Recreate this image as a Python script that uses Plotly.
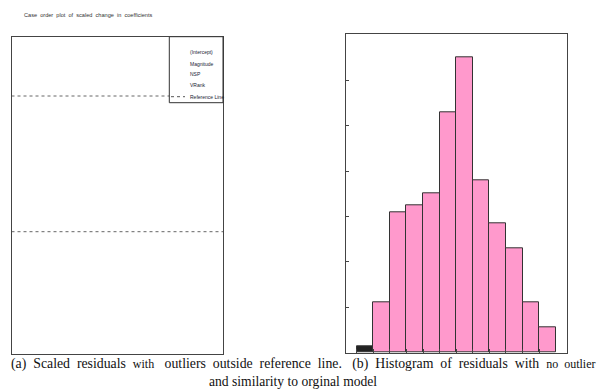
import plotly.graph_objects as go

# ---- data ----
# left panel: case order plot (coefficient series and reference line levels)
coef_names = ["(Intercept)", "Magnitude", "NSP", "VRank"]
reference_levels = [1.0, -1.0]
case_range = [0, 100]
scaled_change_range = [-2.807, 1.874]

# right panel: histogram of residuals
bin_left = [0, 1, 2, 3, 4, 5, 6, 7, 8, 9, 10, 11]
counts = [1.5, 11, 31, 32.5, 35, 53, 65, 38, 28.5, 23, 11, 5.5]
count_ticks = [0, 10, 20, 30, 40, 50, 60, 70]
bin_ticks = [0, 1, 2, 3, 4, 5, 6, 7, 8, 9, 10, 11]

title_text = "Case  order  plot  of  scaled  change  in  coefficients"
small = "<span style='font-size:12px'>%s</span>"
caption_1 = ("(a)  Scaled  residuals  " + small % "with" + "   outliers  outside  "
             "reference  line.   (b)  Histogram  of  residuals  with  " + small % "no  outlier")
caption_2 = "and similarity to orginal model"

W, H = 597, 389


def px(x):
    return x / W


def py(y):
    return 1 - y / H


fig = go.Figure()

# reference lines in the case order plot
for lvl in reference_levels:
    fig.add_trace(go.Scatter(
        x=case_range, y=[lvl, lvl], mode="lines",
        line=dict(color="#666666", width=1, dash="3px,3px"),
        xaxis="x", yaxis="y", showlegend=False, hoverinfo="skip"))

# histogram bars
bar_colors = ["#222222"] + ["#FF99CC"] * (len(counts) - 1)
fig.add_trace(go.Bar(
    x=bin_left, y=counts, offset=0, width=1,
    marker=dict(color=bar_colors, line=dict(color="#333333", width=1)),
    xaxis="x2", yaxis="y2", showlegend=False, hoverinfo="skip"))

frame = dict(showline=True, linecolor="#444444", linewidth=1.3, mirror=True,
             showgrid=False, zeroline=False, showticklabels=False)

fig.update_layout(
    width=W, height=H, margin=dict(l=0, r=0, t=0, b=0),
    paper_bgcolor="white", plot_bgcolor="white",
    showlegend=False, bargap=0,
    xaxis=dict(domain=[px(11.5), px(223)], range=case_range, ticks="", **frame),
    yaxis=dict(domain=[py(354.3), py(36.7)], range=scaled_change_range, ticks="", **frame),
    xaxis2=dict(domain=[px(346), px(566.7)], range=[-0.645, 12.66], anchor="y2",
                ticks="inside", ticklen=4, tickcolor="#444444", tickvals=bin_ticks, **frame),
    yaxis2=dict(domain=[py(352.7), py(34.3)], range=[0, 70.1], anchor="x2",
                ticks="inside", ticklen=3, tickcolor="#444444", tickvals=count_ticks, **frame),
)

# legend box of the case order plot
lx0, lx1, ly0, ly1 = 169.3, 223, 36.7, 102.7
fig.add_shape(type="rect", xref="paper", yref="paper",
              x0=px(lx0), x1=px(lx1), y0=py(ly1), y1=py(ly0),
              fillcolor="white", line=dict(color="#333333", width=1), layer="above")
fig.add_shape(type="line", xref="paper", yref="paper",
              x0=px(171), x1=px(185), y0=py(96.7), y1=py(96.7),
              line=dict(color="#555555", width=1, dash="3px,3px"), layer="above")

legend_labels = coef_names + ["Reference Line"]
legend_y = [52.3, 63.5, 74.3, 85.2, 96.7]
for lab, yy in zip(legend_labels, legend_y):
    fig.add_annotation(x=px(187.5), y=py(yy), xref="paper", yref="paper",
                       text=lab, showarrow=False, xanchor="left", yanchor="middle",
                       font=dict(family="Liberation Sans Narrow, Liberation Sans, Arial",
                                 size=5, color="#222233"))

# title of the case order plot
fig.add_annotation(x=px(22), y=py(15), xref="paper", yref="paper",
                   text=title_text, showarrow=False, xanchor="left", yanchor="middle",
                   font=dict(family="Liberation Sans Narrow, Liberation Sans, Arial",
                             size=5.6, color="#333333"))

# captions
fig.add_annotation(x=px(9), y=py(363.5), xref="paper", yref="paper",
                   text=caption_1, showarrow=False, xanchor="left", yanchor="middle",
                   font=dict(family="Liberation Serif, Times New Roman, serif",
                             size=13.8, color="#111111"))
fig.add_annotation(x=px(292.5), y=py(381.5), xref="paper", yref="paper",
                   text=caption_2, showarrow=False, xanchor="center", yanchor="middle",
                   font=dict(family="Liberation Serif, Times New Roman, serif",
                             size=13.6, color="#111111"))

fig.write_html("out.html")
